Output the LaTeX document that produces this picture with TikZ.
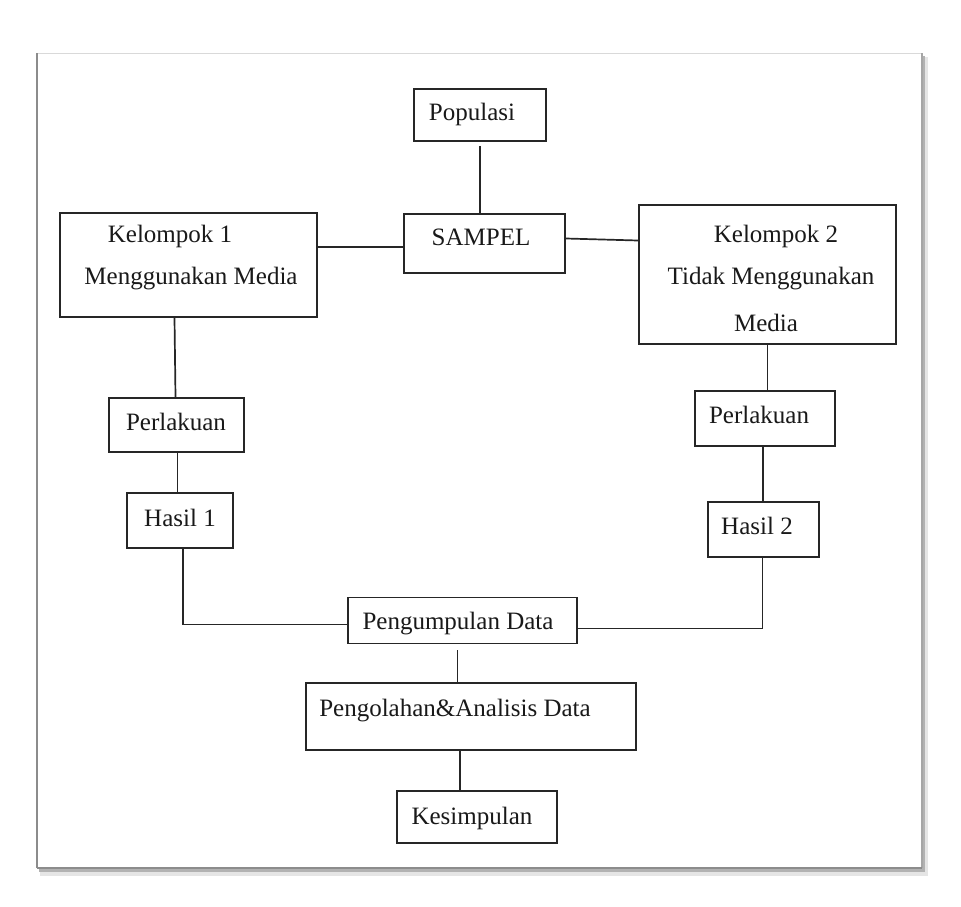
\documentclass[tikz,border=0pt]{standalone}
\usepackage{fontspec}
\setmainfont{Liberation Serif}
\begin{document}
\begin{tikzpicture}[x=1pt,y=-1pt,
  bx/.style={draw=black!85, line width=1.9pt, rectangle, inner sep=0pt},
  conn/.style={draw=black!85, line width=1.7pt},
  txt/.style={font=\fontsize{25}{30}\selectfont, inner sep=0pt, text=black!90}]
\useasboundingbox (0,0) rectangle (961,906);
% frame with shadow
\fill[black!10] (40,57) rectangle (928,876);
\fill[black!30] (39,56) rectangle (925,872);
\fill[white] (37,53) rectangle (922,868);
\draw[black!15, line width=0.8pt] (37,53) -- (922,53);
\draw[black!45, line width=2pt] (37,53) -- (37,868);
\draw[black!35, line width=1.5pt] (922,53) -- (922,868);
\draw[black!45, line width=2pt] (37,868) -- (922,868);
% boxes
\node[bx, minimum width=132pt, minimum height=52pt] (pop) at (480,115) {};
\node[bx, minimum width=161pt, minimum height=59pt] (samp) at (484.5,243.5) {};
\node[bx, minimum width=257pt, minimum height=104pt] (k1) at (188.5,265) {};
\node[bx, minimum width=257pt, minimum height=139pt] (k2) at (767.5,274.5) {};
\node[bx, minimum width=135pt, minimum height=54pt] (perl1) at (176.5,425) {};
\node[bx, minimum width=106pt, minimum height=55pt] (has1) at (180,520.5) {};
\node[bx, minimum width=140pt, minimum height=55pt] (perl2) at (765,418.5) {};
\node[bx, minimum width=111pt, minimum height=55pt] (has2) at (763.5,529.5) {};
\node[bx, minimum width=229pt, minimum height=46pt] (kump) at (462.5,620.5) {};
\node[bx, minimum width=330pt, minimum height=67pt] (olah) at (471,716.5) {};
\node[bx, minimum width=160pt, minimum height=52pt] (simp) at (477,817) {};
% texts
\node[txt] (tpop) at (472,114) {Populasi};
\node[txt] (tsamp) at (481,237) {SAMPEL};
\node[txt] (tk1a) at (170,236) {Kelompok 1};
\node[txt] (tk1b) at (191,279) {Menggunakan Media};
\node[txt] (tk2a) at (776,236) {Kelompok 2};
\node[txt] (tk2b) at (771,279) {Tidak Menggunakan};
\node[txt] (tk2c) at (766,323) {Media};
\node[txt] (tperl1) at (176,422) {Perlakuan};
\node[txt] (thas1) at (180,518) {Hasil 1};
\node[txt] (tperl2) at (759,415) {Perlakuan};
\node[txt] (thas2) at (757,526) {Hasil 2};
\node[txt] (tkump) at (458,624) {Pengumpulan Data};
\node[txt] (tolah) at (455,711) {Pengolahan\&Analisis Data};
\node[txt] (tsimp) at (472,818) {Kesimpulan};
% connectors
\draw[conn] ([yshift=-4pt]pop.south) -- (pop.south |- samp.north);
\draw[conn] ([yshift=18pt]k1.east) -- ([yshift=18pt]k1.east -| samp.west);
\draw[conn] ([yshift=5pt]samp.east) -- ([yshift=34pt]k2.west);
\draw[conn] ([xshift=-2pt]perl1.north |- k1.south) -- ([xshift=-1pt]perl1.north);
\draw[conn] ([xshift=1pt]perl1.south) -- ([xshift=1pt]perl1.south |- has1.north);
\draw[conn] ([xshift=3pt]has1.south) |- ([yshift=-4pt]kump.west);
\draw[conn] (k2.south) -- (k2.south |- perl2.north);
\draw[conn] ([xshift=-2pt]perl2.south) -- ([xshift=-2pt]perl2.south |- has2.north);
\draw[conn] ([xshift=-1pt]has2.south) |- ([yshift=-8pt]kump.east);
\draw[conn] ([xshift=-5pt,yshift=-6pt]kump.south) -- ([xshift=-5pt]kump.south |- olah.north);
\draw[conn] ([xshift=-11pt]olah.south) -- ([xshift=-11pt]olah.south |- simp.north);
\end{tikzpicture}
\end{document}
